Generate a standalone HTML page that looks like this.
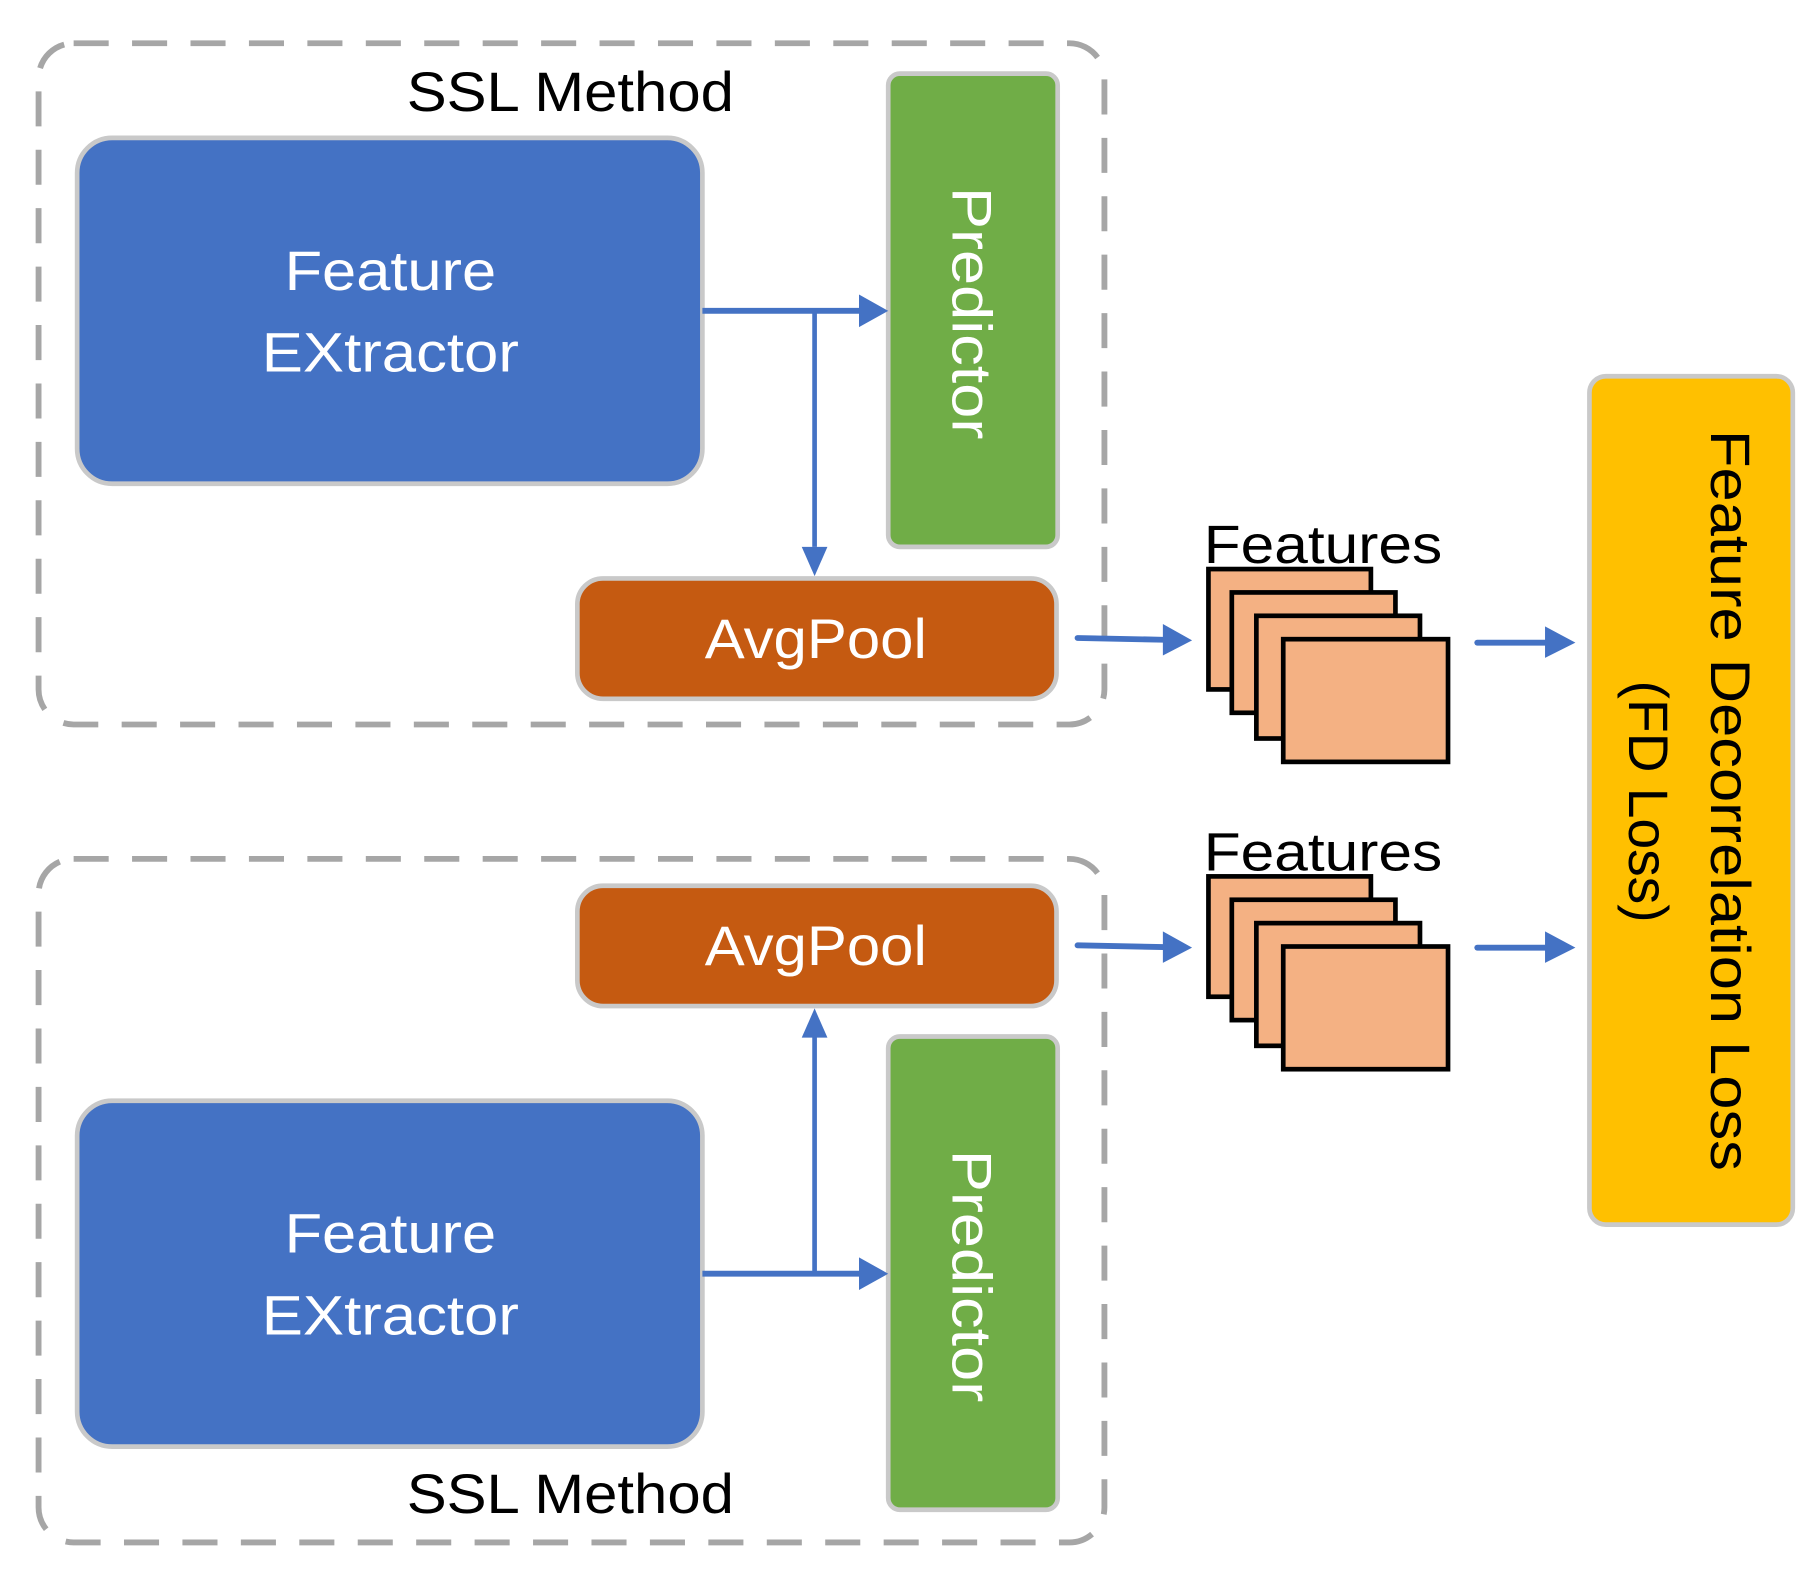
<!DOCTYPE html>
<html><head><meta charset="utf-8"><style>html,body{margin:0;padding:0;background:#fff}svg{display:block}</style></head>
<body>
<svg width="1815" height="1574" viewBox="0 0 1553 1347" preserveAspectRatio="none" xmlns="http://www.w3.org/2000/svg" font-family="Liberation Sans, sans-serif">
<defs>
<marker id="ah" markerWidth="10" markerHeight="10" refX="8" refY="5" orient="auto" markerUnits="userSpaceOnUse" viewBox="0 0 10 10"><path d="M0,0 L10,5 L0,10 z" fill="#4472c4"/></marker>
</defs>
<g id="top">
<rect x="33" y="37" width="912" height="583" rx="30" fill="none" stroke="#a6a6a6" stroke-width="5" stroke-dasharray="30,20"/>
<text x="488" y="95" font-size="48" text-anchor="middle" textLength="280" lengthAdjust="spacingAndGlyphs">SSL Method</text>
<rect x="66" y="118" width="535" height="296" rx="30" fill="#4472c4" stroke="#c9c9c9" stroke-width="4"/>
<text x="334" y="248" font-size="48" fill="#fff" text-anchor="middle" textLength="181" lengthAdjust="spacingAndGlyphs">Feature</text>
<text x="334" y="318" font-size="48" fill="#fff" text-anchor="middle" textLength="220" lengthAdjust="spacingAndGlyphs">EXtractor</text>
<rect x="760" y="63" width="145" height="405" rx="10" fill="#70ad47" stroke="#c9c9c9" stroke-width="4"/>
<text transform="translate(815,268) rotate(90)" font-size="48" fill="#fff" text-anchor="middle" textLength="216" lengthAdjust="spacingAndGlyphs">Predictor</text>
<rect x="494" y="495" width="410" height="103" rx="22" fill="#c55a11" stroke="#c9c9c9" stroke-width="4"/>
<text x="698" y="563" font-size="48" fill="#fff" text-anchor="middle" textLength="190" lengthAdjust="spacingAndGlyphs">AvgPool</text>
<path d="M601,266 H735" stroke="#4472c4" stroke-width="5" fill="none"/>
<path d="M735,252 L760,266 L735,280 z" fill="#4472c4"/>
<path d="M697,266 V468" stroke="#4472c4" stroke-width="4" fill="none"/>
<path d="M686,468 L697,493 L708,468 z" fill="#4472c4"/>
<path d="M922,546 L995,547.5" stroke="#4472c4" stroke-width="5" stroke-linecap="round"/>
<path d="M995,534 L1020,548 L995,561 z" fill="#4472c4"/>
<text x="1030" y="482" font-size="46" textLength="204" lengthAdjust="spacingAndGlyphs">Features</text>
<g fill="#f4b183" stroke="#000" stroke-width="4">
<rect x="1034" y="487" width="139" height="103"/>
<rect x="1054" y="507" width="140" height="103"/>
<rect x="1075" y="527" width="140" height="105"/>
<rect x="1098" y="547" width="141" height="105"/>
</g>
<path d="M1264,550 H1323" stroke="#4472c4" stroke-width="5" stroke-linecap="round"/>
<path d="M1322,536 L1348,550 L1322,563 z" fill="#4472c4"/>
</g>
<g id="bottom">
<rect x="33" y="735" width="912" height="585" rx="30" fill="none" stroke="#a6a6a6" stroke-width="5" stroke-dasharray="30,20"/>
<text x="488" y="1295" font-size="48" text-anchor="middle" textLength="280" lengthAdjust="spacingAndGlyphs">SSL Method</text>
<rect x="66" y="942" width="535" height="296" rx="30" fill="#4472c4" stroke="#c9c9c9" stroke-width="4"/>
<text x="334" y="1072" font-size="48" fill="#fff" text-anchor="middle" textLength="181" lengthAdjust="spacingAndGlyphs">Feature</text>
<text x="334" y="1142" font-size="48" fill="#fff" text-anchor="middle" textLength="220" lengthAdjust="spacingAndGlyphs">EXtractor</text>
<rect x="760" y="887" width="145" height="405" rx="10" fill="#70ad47" stroke="#c9c9c9" stroke-width="4"/>
<text transform="translate(815,1092) rotate(90)" font-size="48" fill="#fff" text-anchor="middle" textLength="216" lengthAdjust="spacingAndGlyphs">Predictor</text>
<rect x="494" y="758" width="410" height="103" rx="22" fill="#c55a11" stroke="#c9c9c9" stroke-width="4"/>
<text x="698" y="826" font-size="48" fill="#fff" text-anchor="middle" textLength="190" lengthAdjust="spacingAndGlyphs">AvgPool</text>
<path d="M601,1090 H735" stroke="#4472c4" stroke-width="5" fill="none"/>
<path d="M735,1076 L760,1090 L735,1104 z" fill="#4472c4"/>
<path d="M697,1090 V887" stroke="#4472c4" stroke-width="4" fill="none"/>
<path d="M686,888 L697,863 L708,888 z" fill="#4472c4"/>
<path d="M922,809 L995,810.5" stroke="#4472c4" stroke-width="5" stroke-linecap="round"/>
<path d="M995,797 L1020,811 L995,824 z" fill="#4472c4"/>
<text x="1030" y="745" font-size="46" textLength="204" lengthAdjust="spacingAndGlyphs">Features</text>
<g fill="#f4b183" stroke="#000" stroke-width="4">
<rect x="1034" y="750" width="139" height="103"/>
<rect x="1054" y="770" width="140" height="103"/>
<rect x="1075" y="790" width="140" height="105"/>
<rect x="1098" y="810" width="141" height="105"/>
</g>
<path d="M1264,811 H1323" stroke="#4472c4" stroke-width="5" stroke-linecap="round"/>
<path d="M1322,797 L1348,811 L1322,824 z" fill="#4472c4"/>
</g>
<rect x="1360" y="322" width="174" height="726" rx="14" fill="#ffc000" stroke="#c9c9c9" stroke-width="4"/>
<text transform="translate(1464,685) rotate(90)" font-size="48" text-anchor="middle" textLength="634" lengthAdjust="spacingAndGlyphs">Feature Decorrelation Loss</text>
<text transform="translate(1394,686) rotate(90)" font-size="48" text-anchor="middle" textLength="207" lengthAdjust="spacingAndGlyphs">(FD Loss)</text>
</svg>
</body></html>
